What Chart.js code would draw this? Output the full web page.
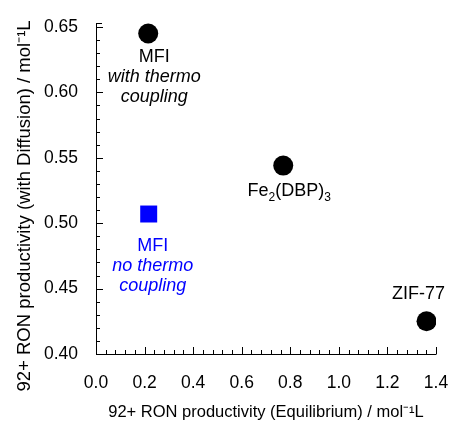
<!DOCTYPE html>
<html>
<head>
<meta charset="utf-8">
<script src="https://cdn.jsdelivr.net/npm/chart.js@4/dist/chart.umd.min.js"></script>
<style>
  html, body { margin: 0; padding: 0; background: #fff; }
  #wrap { width: 449px; height: 421px; }
</style>
</head>
<body>
<div id="wrap"><canvas id="chart"></canvas></div>
<script>
// data
const materials = ['MFI', 'Fe2(DBP)3', 'ZIF-77'];
const equilibrium = [0.215, 0.771, 1.361];
const withDiffusion = [0.645, 0.544, 0.425];

const noCouplingX = [0.217];
const noCouplingY = [0.507];

const xTicks = [0.0, 0.2, 0.4, 0.6, 0.8, 1.0, 1.2, 1.4];
const yTicks = [0.40, 0.45, 0.50, 0.55, 0.60, 0.65];

const xTitle = '92+ RON productivity (Equilibrium) / mol\u207B\u00B9L';
const yTitle = '92+ RON productivity (with Diffusion) / mol\u207B\u00B9L';

// point annotations: text lines (segments: [text, 'sub'|'norm'])
const annotations = [
  { set: 0, idx: 0, color: '#000', lines: [[['MFI', 'norm']], [['with thermo', 'norm']], [['coupling', 'norm']]], italic: [false, true, true] },
  { set: 1, idx: 0, color: '#0000ff', lines: [[['MFI', 'norm']], [['no thermo', 'norm']], [['coupling', 'norm']]], italic: [false, true, true] },
  { set: 0, idx: 1, color: '#000', lines: [[['Fe', 'norm'], ['2', 'sub'], ['(DBP)', 'norm'], ['3', 'sub']]], italic: [false] },
  { set: 0, idx: 2, color: '#000', lines: [[['ZIF-77', 'norm']]], italic: [false] }
];

// label placement (px offsets from the point centre: dx, first baseline dy, line step)
const annotPos = [
  { dx: 6, dy: 29, step: 20 },
  { dx: 4, dy: 36.5, step: 20 },
  { dx: 6, dy: 30, step: 20 },
  { dx: -8, dy: -22.5, step: 20 }
];

const FONT = "'Liberation Sans', Arial, sans-serif";

const inwardTicks = {
  id: 'inwardTicks',
  afterDraw(chart) {
    const { ctx, chartArea } = chart;
    const xs = chart.scales.x, ys = chart.scales.y;
    ctx.save();
    ctx.strokeStyle = '#000';
    ctx.lineWidth = 1;
    ctx.beginPath();
    // axis lines
    ctx.moveTo(chartArea.left + 0.5, chartArea.top);
    ctx.lineTo(chartArea.left + 0.5, chartArea.bottom + 0.5);
    ctx.lineTo(chartArea.right + 0.5, chartArea.bottom + 0.5);
    // x ticks every 0.04, long at 0.2
    for (let i = 0; i <= 35; i++) {
      const v = i * 0.04;
      const px = Math.round(xs.getPixelForValue(v)) + 0.5;
      const len = i % 5 === 0 ? 7 : 4;
      ctx.moveTo(px, chartArea.bottom);
      ctx.lineTo(px, chartArea.bottom - len);
    }
    // y ticks every 0.01, long at 0.05
    for (let i = 0; i <= 25; i++) {
      const v = 0.40 + i * 0.01;
      const py = Math.round(ys.getPixelForValue(v)) + 0.5;
      const len = i % 5 === 0 ? 7 : 4;
      ctx.moveTo(chartArea.left, py);
      ctx.lineTo(chartArea.left + len, py);
    }
    // cap at the top end of the y axis
    ctx.moveTo(chartArea.left, chartArea.top + 0.5);
    ctx.lineTo(chartArea.left + 6, chartArea.top + 0.5);
    ctx.stroke();

    // y axis title
    ctx.fillStyle = '#000';
    ctx.font = '18.5px ' + FONT;
    ctx.textAlign = 'center';
    ctx.textBaseline = 'middle';
    ctx.translate(25, 206);
    ctx.rotate(-Math.PI / 2);
    ctx.fillText(yTitle, 0, 0);
    ctx.restore();
  }
};

const pointLabels = {
  id: 'pointLabels',
  afterDatasetsDraw(chart) {
    const { ctx } = chart;
    ctx.save();
    ctx.textBaseline = 'alphabetic';
    annotations.forEach((a, k) => {
      const el = chart.getDatasetMeta(a.set).data[a.idx];
      const pos = annotPos[k];
      ctx.fillStyle = a.color;
      a.lines.forEach((segs, li) => {
        const style = a.italic[li] ? 'italic ' : '';
        const norm = style + '18px ' + FONT;
        const sub = style + '12px ' + FONT;
        let w = 0;
        segs.forEach(([t, kind]) => {
          ctx.font = kind === 'sub' ? sub : norm;
          w += ctx.measureText(t).width;
        });
        let x = el.x + pos.dx - w / 2;
        const y = el.y + pos.dy + li * pos.step;
        ctx.textAlign = 'left';
        segs.forEach(([t, kind]) => {
          ctx.font = kind === 'sub' ? sub : norm;
          ctx.fillText(t, x, kind === 'sub' ? y + 5 : y);
          x += ctx.measureText(t).width;
        });
      });
    });
    ctx.restore();
  }
};

new Chart(document.getElementById('chart'), {
  type: 'scatter',
  data: {
    datasets: [
      {
        label: 'with thermo coupling',
        data: equilibrium.map((x, i) => ({ x: x, y: withDiffusion[i] })),
        backgroundColor: '#000',
        borderColor: '#000',
        borderWidth: 0,
        pointStyle: 'circle',
        pointRadius: 10,
        pointHoverRadius: 10
      },
      {
        label: 'no thermo coupling',
        data: noCouplingX.map((x, i) => ({ x: x, y: noCouplingY[i] })),
        backgroundColor: '#0000ff',
        borderColor: '#0000ff',
        borderWidth: 0,
        pointStyle: 'rect',
        pointRadius: 12,
        pointHoverRadius: 12
      }
    ]
  },
  options: {
    responsive: true,
    maintainAspectRatio: false,
    animation: false,
    layout: { padding: { top: 23, right: 13, bottom: 0, left: 0 } },
    plugins: {
      legend: { display: false },
      tooltip: { enabled: false }
    },
    scales: {
      x: {
        type: 'linear',
        min: 0,
        max: 1.4,
        afterBuildTicks: s => { s.ticks = xTicks.map(v => ({ value: v })); },
        afterFit: s => { s.height = 67; s.paddingLeft = 0; s.paddingRight = 0; },
        grid: { display: false },
        border: { display: false },
        ticks: {
          color: '#000',
          font: { family: FONT, size: 17.5 },
          padding: 11,
          maxRotation: 0,
          callback: v => v.toFixed(1)
        },
        title: {
          display: true,
          text: xTitle,
          color: '#000',
          font: { family: FONT, size: 16.5, lineHeight: 1 },
          padding: { top: 0, bottom: 0 }
        }
      },
      y: {
        type: 'linear',
        min: 0.40,
        max: 0.653,
        afterBuildTicks: s => { s.ticks = yTicks.map(v => ({ value: v })); },
        afterFit: s => { s.width = 96; s.paddingTop = 0; s.paddingBottom = 0; },
        grid: { display: false },
        border: { display: false },
        ticks: {
          color: '#000',
          font: { family: FONT, size: 17.5 },
          padding: 10,
          callback: v => v.toFixed(2)
        }
      }
    }
  },
  plugins: [inwardTicks, pointLabels]
});
</script>
</body>
</html>
